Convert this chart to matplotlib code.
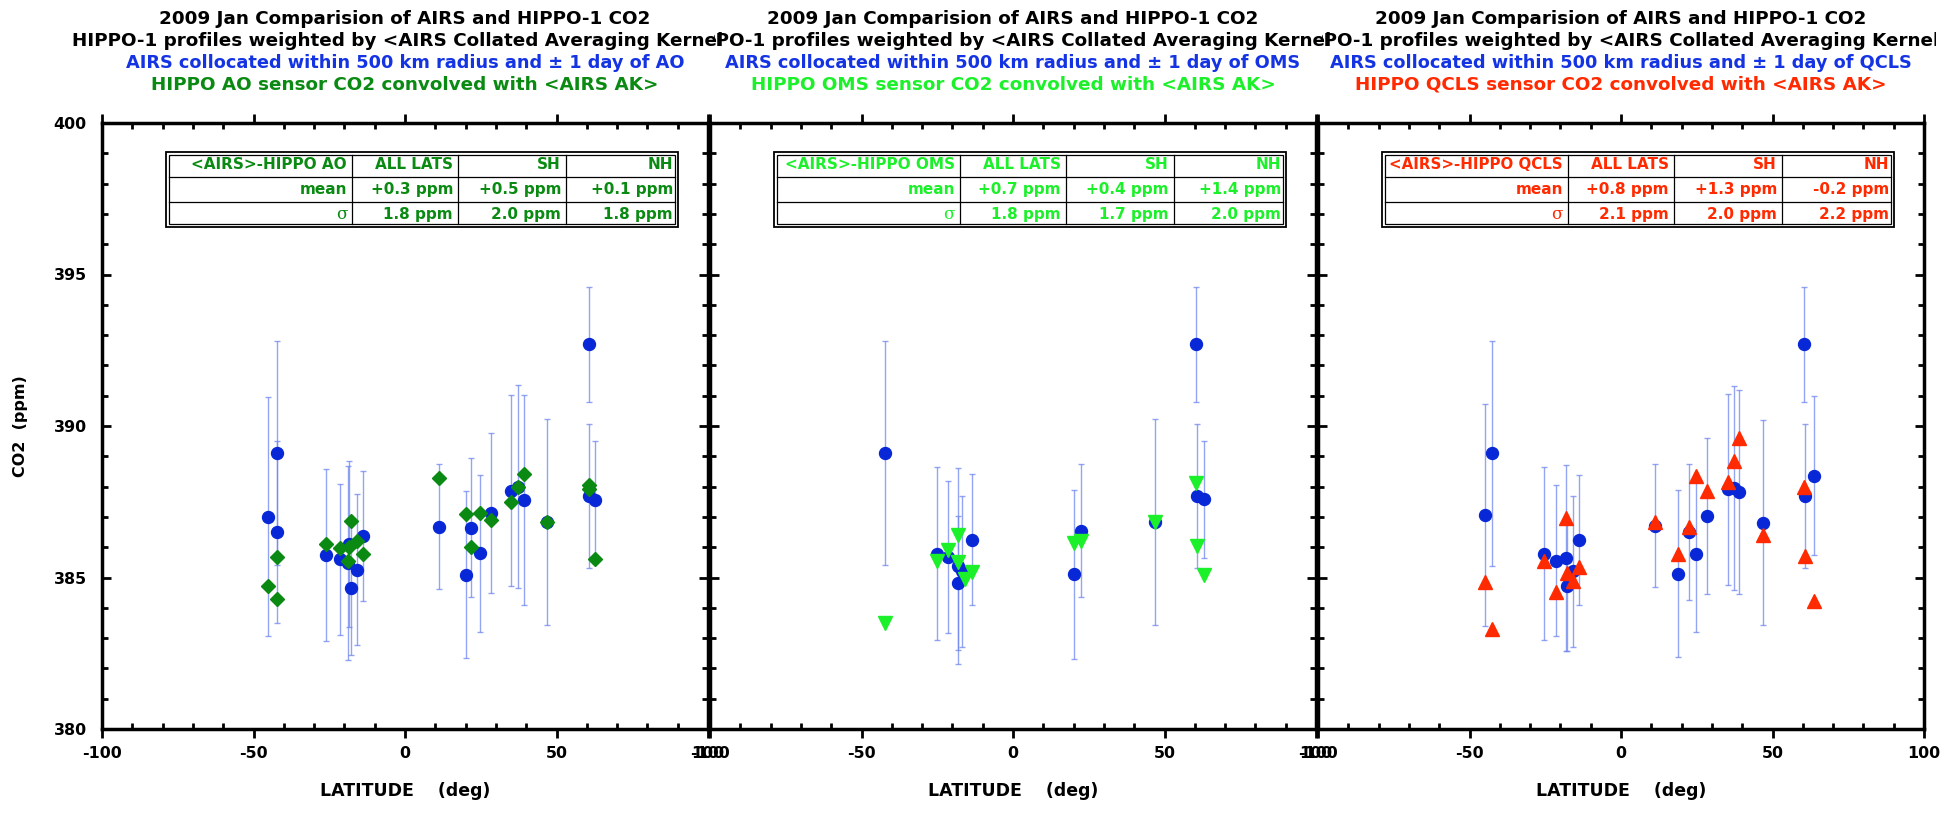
import matplotlib
matplotlib.use('Agg')
import matplotlib.pyplot as plt
from matplotlib.patches import Rectangle
from matplotlib.transforms import Bbox, TransformedBbox
from matplotlib.ticker import MultipleLocator
import numpy as np

plt.rcParams['font.family'] = ['DejaVu Sans']
plt.rcParams['font.weight'] = 'bold'
plt.rcParams['axes.unicode_minus'] = False

# ---------------- data ----------------
# Panel 1: AIRS collocated with AO, and HIPPO AO
ao_airs_lat = [-45.3, -42.4, -42.4, -26.0, -21.4, -18.5, -18.8, -17.7, -15.8, -14.0,
               11.2, 20.0, 21.9, 24.9, 28.3, 35.1, 37.3, 39.3, 46.7, 60.7, 60.7, 62.8]
ao_airs_co2 = [387.01, 389.10, 386.51, 385.75, 385.60, 386.10, 385.47, 384.64, 385.25, 386.37,
               386.68, 385.09, 386.65, 385.80, 387.12, 387.86, 387.99, 387.56, 386.82, 392.70, 387.69, 387.56]
ao_airs_err = [3.95, 3.7, 3.0, 2.83, 2.49, 2.74, 3.2, 2.2, 2.49, 2.16,
               2.06, 2.76, 2.28, 2.59, 2.64, 3.15, 3.35, 3.47, 3.4, 1.9, 2.36, 1.95]
ao_lat = [-45.3, -42.4, -42.4, -26.0, -21.4, -17.7, -18.5, -18.8, -15.8, -14.0,
          11.2, 20.0, 21.9, 24.9, 28.3, 35.1, 37.3, 39.3, 46.7, 60.7, 60.7, 62.8]
ao_co2 = [384.73, 385.69, 384.29, 386.10, 385.99, 386.85, 386.02, 385.53, 386.22, 385.77,
          388.30, 387.10, 386.01, 387.12, 386.90, 387.49, 388.00, 388.42, 386.84, 388.05, 387.91, 385.62]

# Panel 2: AIRS collocated with OMS, and HIPPO OMS
oms_airs_lat = [-42.3, -25.2, -21.5, -18.3, -18.0, -16.7, -13.6, 20.0, 22.3, 46.7, 60.5, 60.8, 62.9]
oms_airs_co2 = [389.11, 385.79, 385.69, 385.39, 384.81, 385.20, 386.24, 385.10, 386.54, 386.83, 392.70, 387.69, 387.58]
oms_airs_err = [3.7, 2.86, 2.51, 3.24, 2.21, 2.49, 2.16, 2.78, 2.2, 3.4, 1.9, 2.37, 1.92]
oms_lat = [-42.3, -25.2, -21.5, -18.0, -18.3, -16.0, -13.6, 20.0, 22.3, 46.7, 60.5, 60.8, 62.9]
oms_co2 = [383.49, 385.53, 385.90, 386.39, 385.51, 384.94, 385.18, 386.13, 386.21, 386.84, 388.13, 386.05, 385.07]

# Panel 3: AIRS collocated with QCLS, and HIPPO QCLS
qcls_airs_lat = [-45.0, -42.5, -25.5, -21.4, -18.2, -17.8, -15.8, -13.8, 11.1, 18.9,
                 22.5, 24.7, 28.3, 35.2, 37.4, 39.0, 46.9, 60.4, 60.8, 63.8]
qcls_airs_co2 = [387.06, 389.10, 385.79, 385.56, 385.64, 384.73, 385.20, 386.24, 386.70, 385.12,
                 386.51, 385.79, 387.03, 387.91, 387.96, 387.83, 386.81, 392.70, 387.69, 388.36]
qcls_airs_err = [3.65, 3.72, 2.86, 2.48, 3.07, 2.16, 2.49, 2.14, 2.03, 2.76,
                 2.24, 2.59, 2.57, 3.16, 3.37, 3.36, 3.38, 1.9, 2.37, 2.62]
qcls_lat = [-45.0, -42.5, -25.5, -21.4, -18.2, -17.8, -15.8, -13.8, 11.1, 18.9,
            22.5, 24.7, 28.3, 35.2, 37.4, 39.0, 46.9, 60.4, 60.8, 63.8]
qcls_co2 = [384.84, 383.30, 385.55, 384.51, 386.97, 385.14, 384.89, 385.36, 386.84, 385.76,
            386.66, 388.36, 387.85, 388.15, 388.84, 389.62, 386.40, 387.98, 385.72, 384.23]

sensors = ['AO', 'OMS', 'QCLS']
table_cols = ['ALL LATS', 'SH', 'NH']
ao_mean = ['+0.3 ppm', '+0.5 ppm', '+0.1 ppm']
ao_sigma = ['1.8 ppm', '2.0 ppm', '1.8 ppm']
oms_mean = ['+0.7 ppm', '+0.4 ppm', '+1.4 ppm']
oms_sigma = ['1.8 ppm', '1.7 ppm', '2.0 ppm']
qcls_mean = ['+0.8 ppm', '+1.3 ppm', '-0.2 ppm']
qcls_sigma = ['2.1 ppm', '2.0 ppm', '2.2 ppm']

xticks = [-100, -50, 0, 50, 100]
yticks = [380, 385, 390, 395, 400]

# ---------------- style ----------------
W, H = 1946, 815
BLUE_PT = '#0828d8'
BAR = '#6f86ee'
TITLE_BLUE = '#1434e4'
SENSOR_COL = ['#0a8a12', '#1cf02a', '#ff2a00']
SENSOR_MARK = ['D', 'v', '^']
SENSOR_MS = [7.3, 10, 10]

fig = plt.figure(figsize=(W / 100, H / 100), dpi=100)
renderer = fig.canvas.get_renderer()

ax_left_px = [102, 710, 1318]
ax_w_px = 606
ax_top_px, ax_bot_px = 123, 729
ax_h_px = ax_bot_px - ax_top_px

panels = [
    (ao_airs_lat, ao_airs_co2, ao_airs_err, ao_lat, ao_co2, ao_mean, ao_sigma),
    (oms_airs_lat, oms_airs_co2, oms_airs_err, oms_lat, oms_co2, oms_mean, oms_sigma),
    (qcls_airs_lat, qcls_airs_co2, qcls_airs_err, qcls_lat, qcls_co2, qcls_mean, qcls_sigma),
]

clip_edges = [(0, 724), (714, 1332), (1322, 1936)]


def draw_table(ax, rows, color):
    px = 1.0 / ax_w_px
    x0, x1 = (166 - 102) * px, (678 - 102) * px
    xs = [x0, (352 - 102) * px, (458 - 102) * px, (566 - 102) * px, x1]
    y_top, y_bot = (ax_bot_px - 152) / ax_h_px, (ax_bot_px - 227) / ax_h_px
    ys = np.linspace(y_top, y_bot, 4)
    tr = ax.transAxes
    ax.add_patch(Rectangle((x0, y_bot), x1 - x0, y_top - y_bot, transform=tr,
                           facecolor='white', edgecolor='black', lw=1.3, zorder=5))
    d = 3.2 * px
    dy = 3.2 / ax_h_px
    ax.add_patch(Rectangle((x0 + d, y_bot + dy), x1 - x0 - 2 * d, y_top - y_bot - 2 * dy,
                           transform=tr, fill=False, edgecolor='black', lw=0.9, zorder=6))
    for xv in xs[1:-1]:
        ax.plot([xv, xv], [y_bot + dy, y_top - dy], transform=tr, color='black', lw=0.9, zorder=6)
    for yv in ys[1:-1]:
        ax.plot([x0 + d, x1 - d], [yv, yv], transform=tr, color='black', lw=0.9, zorder=6)
    for r, row in enumerate(rows):
        yc = (ys[r] + ys[r + 1]) / 2
        for c, txt in enumerate(row):
            xr = xs[c + 1] - 5 * px
            if txt == 'σ':
                ax.text(xr, yc, txt, transform=tr, ha='right', va='center', color=color,
                        fontsize=12, family='DejaVu Serif', weight='normal', zorder=7)
            else:
                t = ax.text(xr, yc, txt, transform=tr, ha='right', va='center', color=color,
                            fontsize=11.0, weight='bold', zorder=7)
                # keep the text inside its cell
                avail = (xs[c + 1] - xs[c]) * ax_w_px - 14
                wpx = t.get_window_extent(renderer=renderer).width
                if wpx > avail:
                    t.set_fontsize(11.0 * avail / wpx)


for i, (alat, aco2, aerr, slat, sco2, smean, ssig) in enumerate(panels):
    ax = fig.add_axes([ax_left_px[i] / W, 1 - ax_bot_px / H, ax_w_px / W, ax_h_px / H])
    ax.set_xlim(-100, 100)
    ax.set_ylim(380, 400)
    ax.set_xticks(xticks)
    ax.set_xticklabels([str(v) for v in xticks])
    ax.set_yticks(yticks)
    ax.set_yticklabels([str(v) for v in yticks])
    ax.xaxis.set_minor_locator(MultipleLocator(10))
    ax.yaxis.set_minor_locator(MultipleLocator(1))
    ax.tick_params(axis='x', which='major', direction='out', length=6.5, width=2,
                   top=True, bottom=True, labelsize=11.4, pad=6)
    ax.tick_params(axis='x', which='minor', direction='in', length=4.0, width=2,
                   top=True, bottom=True)
    ax.tick_params(axis='y', which='major', direction='in', length=6.3, width=2,
                   left=True, right=True, labelsize=11.4, pad=11, labelleft=(i == 0))
    ax.tick_params(axis='y', which='minor', direction='in', length=4.3, width=2,
                   left=True, right=True)
    for sp in ax.spines.values():
        sp.set_linewidth(2.5)

    ax.errorbar(alat, aco2, yerr=aerr, fmt='none', ecolor=BAR, elinewidth=1.0,
                capsize=2, capthick=1.0, alpha=0.75, zorder=2)
    ax.plot(alat, aco2, 'o', ms=8.6, color=BLUE_PT, mec=BLUE_PT, zorder=3, linestyle='none')
    ax.plot(slat, sco2, SENSOR_MARK[i], ms=SENSOR_MS[i], color=SENSOR_COL[i],
            mec=SENSOR_COL[i], zorder=4, linestyle='none')

    rows = [['<AIRS>-HIPPO ' + sensors[i]] + table_cols,
            ['mean'] + smean,
            ['σ'] + ssig]
    draw_table(ax, rows, SENSOR_COL[i])

    # titles
    cx = (ax_left_px[i] + ax_w_px / 2) / W
    lines = [('2009 Jan Comparision of AIRS and HIPPO-1 CO2', 'black', 13.2),
             ('HIPPO-1 profiles weighted by <AIRS Collated Averaging Kernel>', 'black', 13.2),
             ('AIRS collocated within 500 km radius and ± 1 day of ' + sensors[i], TITLE_BLUE, 12.8),
             ('HIPPO ' + sensors[i] + ' sensor CO2 convolved with <AIRS AK>', SENSOR_COL[i], 13.2)]
    baselines = [24.5, 46.3, 68.0, 89.6]
    cb = TransformedBbox(Bbox.from_extents(clip_edges[i][0] / W, 0, clip_edges[i][1] / W, 1),
                         fig.transFigure)
    for (txt, col, fs), yb in zip(lines, baselines):
        t = fig.text(cx, 1 - yb / H, txt, ha='center', va='baseline', color=col,
                     fontsize=fs, weight='bold')
        t.set_clip_box(cb)
        t.set_clip_on(True)

    fig.text(cx, 1 - 791 / H, 'LATITUDE    (deg)', ha='center', va='center',
             fontsize=12.5, weight='bold')

fig.text(21 / W, 1 - 426 / H, 'CO2  (ppm)', rotation=90, ha='center', va='center',
         fontsize=11.5, weight='bold')

fig.savefig('out.png', dpi=100)
